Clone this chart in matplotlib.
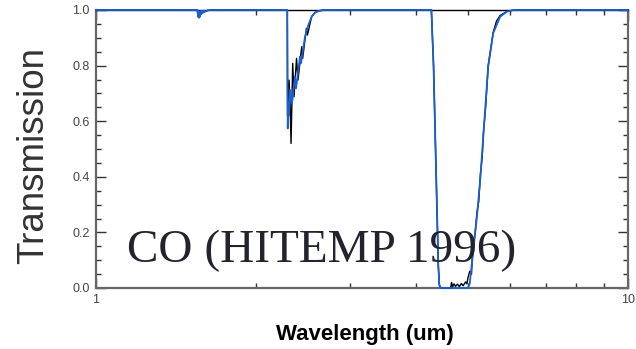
import matplotlib
matplotlib.use("Agg")
import matplotlib.pyplot as plt
from matplotlib.ticker import FixedLocator, MultipleLocator, NullFormatter

# CO transmission spectrum: high-resolution (black) and smoothed (blue)
wl_black = [1.00, 1.550, 1.556, 1.559, 1.562, 1.566, 1.569, 1.573, 1.578, 1.584,
            1.592, 1.605, 1.64,
            2.289, 2.291, 2.306, 2.316, 2.326, 2.343, 2.356, 2.382, 2.397,
            2.436, 2.446, 2.486, 2.497, 2.543, 2.580, 2.620, 2.68,
            4.27, 4.31, 4.34, 4.37, 4.40, 4.42, 4.45, 4.64, 4.66, 4.68, 4.71,
            4.74, 4.78, 4.82, 4.86, 4.90, 4.95, 4.98, 5.00, 5.04, 5.08, 5.09,
            5.12, 5.16, 5.20, 5.24, 5.28, 5.32, 5.35, 5.40, 5.46, 5.52, 5.58,
            5.66, 5.75, 5.92, 6.10, 10.0]
t_black = [1.0, 1.0, 0.978, 0.994, 0.973, 0.995, 0.977, 0.996, 0.986, 0.997,
           0.991, 0.996, 1.0,
           1.0, 0.62, 0.748, 0.676, 0.52, 0.808, 0.688, 0.826, 0.748,
           0.868, 0.826, 0.934, 0.910, 0.976, 0.991, 0.997, 1.0,
           1.0, 0.80, 0.56, 0.32, 0.08, 0.01, 0.0, 0.0, 0.02, 0.004, 0.015,
           0.006, 0.014, 0.005, 0.016, 0.008, 0.022, 0.015, 0.035, 0.06, 0.05, 0.09,
           0.15, 0.20, 0.27, 0.31, 0.41, 0.47, 0.56, 0.65, 0.80, 0.86, 0.92,
           0.96, 0.98, 0.995, 1.0, 1.0]

wl_blue = [1.00, 1.550, 1.556, 1.559, 1.562, 1.566, 1.569, 1.573, 1.577, 1.582,
           1.588, 1.595, 1.605, 1.62, 1.64,
           2.288, 2.293, 2.300, 2.305, 2.316, 2.336, 2.366, 2.377, 2.418,
           2.428, 2.471, 2.507, 2.543, 2.580, 2.617, 2.68,
           4.27, 4.31, 4.34, 4.37, 4.40, 4.42, 4.45, 5.00, 5.04, 5.12, 5.20,
           5.28, 5.35, 5.46, 5.58, 5.75, 5.92, 6.10, 10.0]
t_blue = [1.0, 1.0, 0.975, 0.995, 0.972, 0.995, 0.976, 0.996, 0.985, 0.997,
          0.990, 0.998, 0.994, 0.999, 1.0,
          1.0, 0.574, 0.66, 0.62, 0.712, 0.664, 0.760, 0.718, 0.832,
          0.808, 0.904, 0.946, 0.976, 0.991, 0.996, 1.0,
          1.0, 0.80, 0.56, 0.32, 0.08, 0.01, 0.0, 0.0, 0.015, 0.137, 0.256,
          0.40, 0.557, 0.796, 0.917, 0.976, 0.994, 1.0, 1.0]

x_major = [1, 10]
x_major_labels = ["1", "10"]
y_major = [0.0, 0.2, 0.4, 0.6, 0.8, 1.0]
y_major_labels = ["0.0", "0.2", "0.4", "0.6", "0.8", "1.0"]

plt.rcParams["font.family"] = ["Liberation Sans", "DejaVu Sans"]

fig = plt.figure(figsize=(6.36, 3.49), dpi=100)
ax = fig.add_axes([96 / 636, 1 - 288 / 349, 532 / 636, 278 / 349])

ax.plot(wl_black, t_black, color="black", lw=1.0, zorder=3, clip_on=False)
ax.plot(wl_blue, t_blue, color="#1a5fd4", lw=1.3, zorder=4, clip_on=False)

ax.set_xscale("log")
ax.set_xlim(1, 10)
ax.set_ylim(0, 1)

ax.xaxis.set_major_locator(FixedLocator(x_major))
ax.set_xticklabels(x_major_labels)
ax.xaxis.set_minor_locator(FixedLocator([2, 3, 4, 5, 6, 7, 8, 9]))
ax.xaxis.set_minor_formatter(NullFormatter())
ax.set_yticks(y_major)
ax.set_yticklabels(y_major_labels)
ax.yaxis.set_minor_locator(MultipleLocator(0.05))

ax.tick_params(which="both", direction="in", top=True, right=True,
               colors="#333333", labelcolor="#444444", labelsize=9, width=1.0)
ax.tick_params(which="major", length=7, pad=4.5)
ax.tick_params(which="minor", length=3.5)

for side in ("left", "right", "bottom"):
    ax.spines[side].set_color("#666666")
    ax.spines[side].set_linewidth(1.6)
ax.spines["top"].set_color("black")
ax.spines["top"].set_linewidth(1.0)

ax.set_ylabel("Transmission", fontsize=26.5, color="#333333")
ax.yaxis.set_label_coords(-0.085, 0.475)
ax.set_xlabel("Wavelength (um)", fontsize=16, fontweight="bold", color="black")
ax.xaxis.set_label_coords(0.506, -0.13)

ax.text(0.058, 0.094, "CO (HITEMP 1996)", transform=ax.transAxes,
        fontsize=34, family=["Liberation Serif", "DejaVu Serif"],
        color="#23232e", va="baseline", ha="left", zorder=5)

fig.savefig("out.png", dpi=100)
